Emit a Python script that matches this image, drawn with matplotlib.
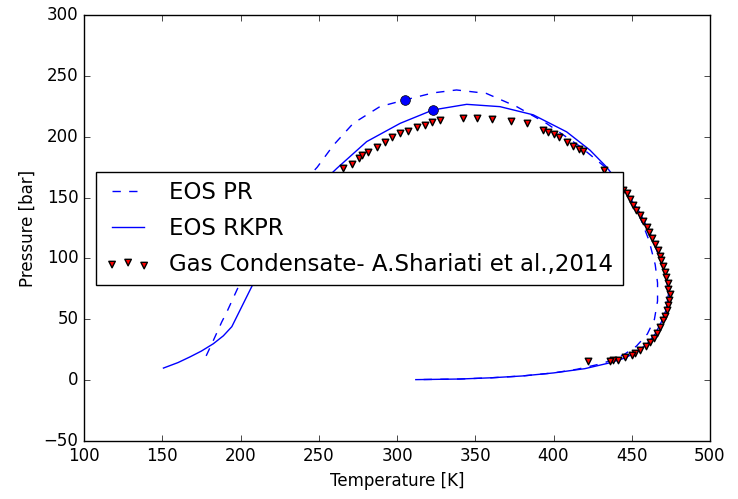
import matplotlib
matplotlib.use("Agg")
import matplotlib.pyplot as plt

plt.style.use("classic")

# EOS PR envelope (dashed)
pr_T = [178, 182.6, 188, 191.2, 197.6, 205, 215, 225, 237, 249, 259.3, 272, 289, 305,
        323, 338, 357, 376.5, 395.6, 417, 434, 446, 455, 461, 465, 466.5, 466.5, 464.5, 460,
        453, 445, 432, 415, 400, 380, 360, 340, 312]
pr_P = [20, 32.7, 48, 56, 74, 94, 118, 139, 158, 175, 193, 211, 224.7, 230.2,
        236, 238.4, 235.6, 224.7, 210.9, 192, 174, 155, 135, 115, 95, 80, 65, 50, 38,
        28, 21, 14, 9, 6, 3.5, 2, 1, 0.5]

# EOS RKPR envelope (solid)
rk_T = [150.7, 160, 167.7, 175, 182.6, 189, 194.4, 199.7, 206, 215, 228, 243, 255, 261.5, 280.6,
        302, 323, 344.5, 365.8, 387, 408.4, 423.3, 434, 446, 455, 462, 468, 472, 473.5,
        472, 469, 465, 460, 453, 445, 435, 420, 400, 380, 360, 340, 312]
rk_P = [10, 14.5, 19.2, 24, 30, 36.5, 44, 57.7, 74, 97, 125, 150, 166, 174, 196,
        211, 222, 226.6, 224.7, 218, 204, 189, 175, 155, 138, 120, 100, 85, 71,
        58, 48, 38, 30, 23, 18, 14, 9.5, 6, 3.5, 2, 1, 0.5]

# critical points
crit_T = [305, 323]
crit_P = [230.2, 222]

# Gas condensate experimental data (A. Shariati et al., 2014)
exp_T = [265.7, 271, 276, 277.4, 281.7, 287, 292.3, 296.6, 302, 307.2, 312.6, 318,
         322.2, 327.5, 342.4, 350.9, 361, 372.6, 382.8, 393.5, 396.7, 400, 403.7,
         408.4, 412.7, 416.5, 419, 432, 436, 439, 442, 444.5, 446.7, 449, 451, 453,
         455, 457, 459.5, 461, 463, 464.8, 466.5, 468, 469, 470, 471, 472, 473,
         473.5, 474.4, 474, 473, 472.3, 471, 470.2, 468, 466, 464, 461.7, 459,
         455.3, 452, 450, 445.7, 441.4, 438, 436, 422.3]
exp_P = [174, 178, 182.6, 185, 187.6, 191.7, 195.8, 200, 202.7, 204.9, 207.6, 210,
         212.2, 213.6, 215.5, 215.5, 214.5, 213, 211, 205.4, 204, 202, 200,
         196, 192.5, 189.8, 188, 172.6, 167, 163, 159, 156, 153.4, 149, 144, 139.7,
         135.5, 131, 126, 122, 117, 112.3, 107, 102, 98.7, 94, 89, 85, 80,
         75, 71, 66, 62, 57.6, 53, 49.3, 44, 39, 35, 31.5, 28,
         24.7, 22, 20.6, 18.7, 17, 16.3, 15.9, 15.9]

fig = plt.figure(figsize=(7.38, 4.99), dpi=100, facecolor="white")
ax = fig.add_axes([0.114, 0.116, 0.848, 0.854])

ax.plot(pr_T, pr_P, "b--", lw=1, label="EOS PR")
ax.plot(rk_T, rk_P, "b-", lw=1, label="EOS RKPR")
ax.scatter(exp_T, exp_P, marker="v", c="r", s=22, edgecolors="k", linewidths=1.0,
           label="Gas Condensate- A.Shariati et al.,2014", zorder=3)
ax.plot(crit_T, crit_P, "o", color="b", markeredgecolor="k", markersize=7, zorder=4)

ax.set_xlim(100, 500)
ax.set_ylim(-50, 300)
ax.set_xlabel("Temperature [K]")
ax.set_ylabel("Pressure [bar]")

ax.legend(loc="upper left", bbox_to_anchor=(0.019, 0.631), borderaxespad=0,
          fontsize=16.5, scatterpoints=3, numpoints=2, handlelength=2,
          labelspacing=0.55)

fig.savefig("out.png", dpi=100, facecolor="white")
